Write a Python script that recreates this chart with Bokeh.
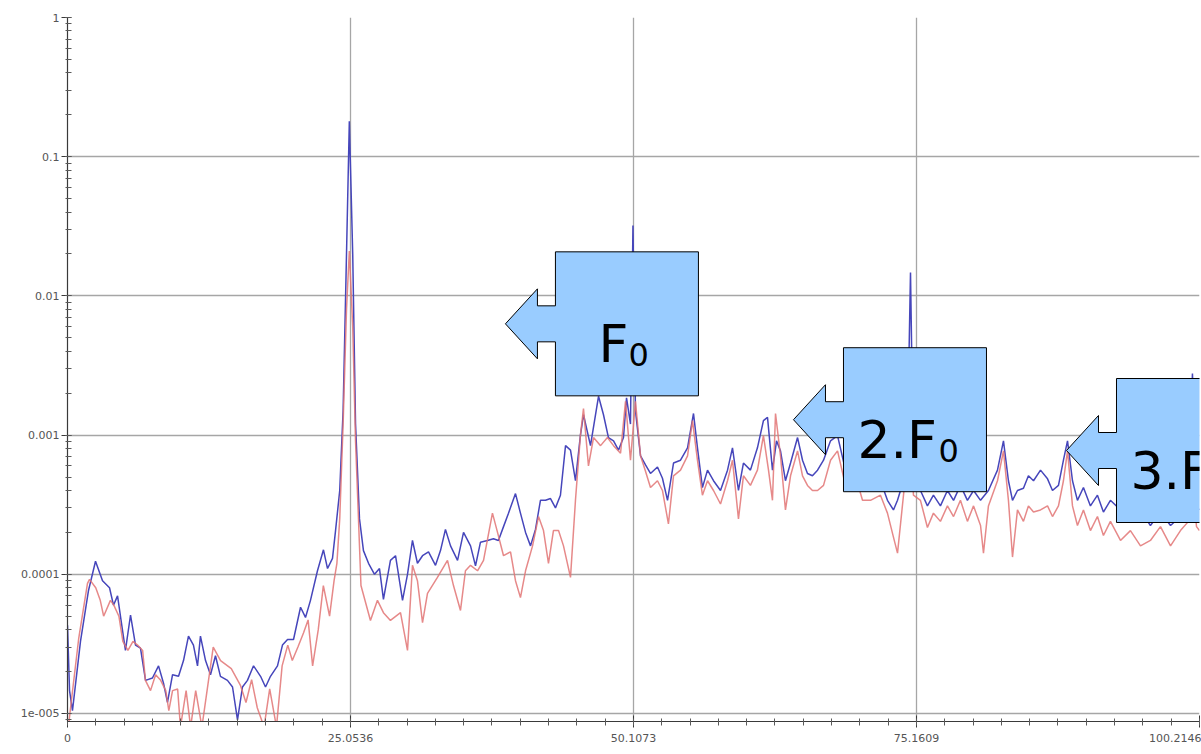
import numpy as np
from bokeh.plotting import figure
from bokeh.models import Range1d, FixedTicker, LogTicker, CustomJSTickFormatter
from bokeh.core.properties import value
from bokeh.embed import file_html
from bokeh.resources import INLINE

# ---- axis ticks -------------------------------------------------------------
x_tick_values = [0.0, 25.0536, 50.1073, 75.1609, 100.2146]
x_tick_labels = ["0", "25.0536", "50.1073", "75.1609", "100.2146"]
# label for 10**(-i)
y_tick_labels = ["1", "0.1", "0.01", "0.001", "0.0001", "1e-005"]

# ---- spectrum, channel A (blue) ---------------------------------------------
blue_freq = [
    0.00, 0.18, 0.44, 1.15, 1.86, 2.48, 3.10, 3.72, 4.07, 4.43, 4.87, 5.13, 5.58,
    6.02, 6.46, 6.91, 7.52, 8.06, 8.50, 8.85, 9.30, 9.83, 10.27, 10.71, 11.15,
    11.51, 11.77, 12.22, 12.66, 13.10, 13.54, 14.16, 14.61, 15.05, 15.49, 15.93,
    16.47, 17.09, 17.53, 17.97, 18.59, 19.03, 19.48, 20.01, 20.63, 21.07, 21.51,
    22.13, 22.66, 23.02, 23.46, 23.73, 24.10, 24.40, 24.70, 24.95, 25.25, 25.50,
    25.85, 26.20, 26.65, 27.18, 27.62, 27.97, 28.59, 29.04, 29.66, 30.10, 30.54,
    30.98, 31.43, 31.96, 32.58, 33.02, 33.46, 33.91, 34.53, 35.06, 35.68, 36.12,
    36.56, 37.18, 37.71, 38.15, 38.60, 39.04, 39.66, 40.10, 40.55, 40.99, 41.43,
    41.87, 42.32, 42.76, 43.20, 43.64, 44.09, 44.53, 44.97, 45.41, 45.68, 46.30,
    47.01, 47.45, 47.89, 48.34, 48.78, 49.22, 49.49, 49.84, 50.06, 50.28, 50.73,
    51.17, 51.61, 52.23, 52.67, 53.12, 53.65, 54.27, 54.89, 55.42, 55.77, 56.21,
    56.66, 57.19, 57.81, 58.43, 58.87, 59.40, 59.84, 60.46, 61.08, 61.61, 61.97,
    62.41, 62.77, 63.12, 63.56, 64.01, 64.63, 65.07, 65.51, 65.95, 66.40, 66.93,
    67.55, 68.17, 68.87, 69.76, 70.38, 71.09, 71.97, 72.59, 73.12, 73.48, 74.01,
    74.36, 74.63, 74.89, 75.51, 76.13, 76.66, 77.28, 77.90, 78.44, 79.05, 79.67,
    80.21, 80.83, 81.53, 82.33, 82.86, 83.30, 83.66, 84.10, 84.63, 85.07, 85.52,
    86.14, 86.76, 87.20, 87.73, 88.17, 88.53, 88.97, 89.41, 89.94, 90.56, 91.18,
    91.71, 92.33, 93.22, 94.10, 94.99, 95.87, 96.76, 97.65, 98.53, 99.24, 99.59,
    99.95, 100.21,
]
blue_amp = [
    4.3e-5, 1.46e-5, 1.05e-5, 3.3e-5, 7.65e-5, 1.24e-4, 9.0e-5, 8.0e-5, 6.0e-5,
    7.0e-5, 3.95e-5, 2.84e-5, 5.1e-5, 3.1e-5, 2.95e-5, 1.73e-5, 1.8e-5, 2.2e-5,
    1.65e-5, 1.2e-5, 1.9e-5, 1.85e-5, 2.4e-5, 3.6e-5, 3.1e-5, 2.2e-5, 3.6e-5,
    2.4e-5, 1.9e-5, 2.6e-5, 1.85e-5, 1.73e-5, 1.55e-5, 9.0e-6, 1.55e-5, 1.73e-5,
    2.2e-5, 1.85e-5, 1.55e-5, 1.85e-5, 2.2e-5, 3.1e-5, 3.4e-5, 3.4e-5, 5.8e-5,
    4.9e-5, 6.5e-5, 1.06e-4, 1.5e-4, 1.1e-4, 1.3e-4, 2.06e-4, 4.0e-4, 1.5e-3,
    2.0e-2, 0.18, 2.0e-2, 1.2e-3, 2.5e-4, 1.48e-4, 1.2e-4, 1.0e-4, 1.1e-4, 6.6e-5,
    1.26e-4, 1.36e-4, 6.5e-5, 1.0e-4, 1.75e-4, 1.2e-4, 1.36e-4, 1.45e-4, 1.16e-4,
    1.48e-4, 2.1e-4, 1.6e-4, 1.26e-4, 2.0e-4, 1.6e-4, 1.15e-4, 1.7e-4, 1.75e-4,
    1.8e-4, 1.75e-4, 2.2e-4, 2.75e-4, 3.8e-4, 2.75e-4, 2.0e-4, 1.6e-4, 2.1e-4,
    3.4e-4, 3.4e-4, 3.5e-4, 3.0e-4, 3.7e-4, 8.4e-4, 7.8e-4, 4.7e-4, 1.0e-3,
    1.4e-3, 8.4e-4, 1.9e-3, 1.4e-3, 9.6e-4, 9.1e-4, 7.8e-4, 9.6e-4, 1.85e-3,
    1.2e-3, 3.2e-2, 1.5e-3, 7.1e-4, 6.1e-4, 5.3e-4, 5.9e-4, 4.9e-4, 3.4e-4,
    6.3e-4, 6.6e-4, 8.1e-4, 1.43e-3, 8.1e-4, 4.2e-4, 5.6e-4, 4.7e-4, 4.0e-4,
    5.6e-4, 8.1e-4, 4.0e-4, 6.3e-4, 5.6e-4, 8.1e-4, 1.27e-3, 1.34e-3, 5.6e-4,
    9.1e-4, 7.7e-4, 4.7e-4, 6.3e-4, 9.6e-4, 6.6e-4, 5.3e-4, 5.1e-4, 5.6e-4,
    6.6e-4, 9.1e-4, 9.9e-4, 5.6e-4, 6.6e-4, 4.0e-4, 4.35e-4, 4.7e-4, 3.4e-4,
    2.9e-4, 3.4e-4, 4.7e-4, 9.1e-4, 1.47e-2, 5.6e-4, 4.0e-4, 3.1e-4, 3.7e-4,
    3.1e-4, 4.0e-4, 3.4e-4, 4.35e-4, 3.4e-4, 4.0e-4, 3.4e-4, 4.0e-4, 5.6e-4,
    9.1e-4, 4.7e-4, 3.4e-4, 4.0e-4, 4.15e-4, 5.1e-4, 4.7e-4, 5.6e-4, 4.85e-4,
    4.0e-4, 4.35e-4, 6.6e-4, 9.1e-4, 4.7e-4, 3.4e-4, 4.2e-4, 3.1e-4, 3.7e-4,
    2.8e-4, 3.4e-4, 2.9e-4, 2.4e-4, 2.9e-4, 2.24e-4, 2.8e-4, 2.24e-4, 2.6e-4,
    3.4e-4, 2.77e-3, 3.1e-4, 2.9e-4,
]

# ---- spectrum, channel B (red) ----------------------------------------------
red_freq = [
    0.00, 0.27, 1.00, 1.77, 1.95, 2.50, 2.90, 3.20, 3.80, 4.10, 4.55, 4.90, 5.35,
    5.80, 6.20, 6.65, 6.90, 7.35, 7.80, 8.25, 8.70, 8.97, 9.30, 9.75, 10.00,
    10.50, 10.90, 11.35, 11.90, 12.90, 13.55, 14.50, 15.30, 15.80, 16.30, 16.80,
    17.40, 17.90, 18.50, 19.00, 19.50, 19.90, 20.40, 20.90, 21.30, 21.70, 22.20,
    22.65, 23.20, 23.60, 23.85, 24.10, 24.40, 24.70, 24.95, 25.25, 25.50, 25.85,
    25.98, 26.82, 27.44, 27.97, 28.59, 29.48, 30.10, 30.54, 30.98, 31.43, 31.87,
    32.75, 33.64, 34.17, 34.79, 35.23, 35.68, 36.30, 36.83, 37.62, 38.07, 38.60,
    39.22, 39.66, 40.10, 40.55, 41.17, 41.70, 42.14, 42.58, 43.02, 43.47, 43.91,
    44.53, 44.97, 45.41, 45.68, 46.12, 46.57, 47.19, 47.80, 48.34, 48.96, 49.40,
    49.84, 50.28, 50.73, 51.17, 51.61, 52.23, 52.67, 53.20, 53.65, 54.27, 54.89,
    55.33, 55.77, 56.21, 56.66, 57.19, 57.81, 58.43, 58.87, 59.40, 59.84, 60.46,
    61.08, 61.61, 62.06, 62.41, 62.68, 63.12, 63.56, 64.01, 64.63, 65.07, 65.51,
    65.95, 66.40, 66.93, 67.55, 68.17, 68.87, 69.76, 70.38, 71.09, 71.97, 72.59,
    73.12, 73.48, 74.01, 74.63, 74.89, 75.51, 76.13, 76.66, 77.28, 77.90, 78.44,
    79.05, 79.67, 80.21, 80.83, 81.09, 81.53, 82.33, 82.86, 83.30, 83.66, 84.10,
    84.63, 85.07, 85.52, 86.14, 86.76, 87.20, 87.73, 88.17, 88.53, 88.97, 89.41,
    89.94, 90.56, 91.18, 91.71, 92.33, 93.22, 94.10, 94.99, 95.87, 96.76, 97.65,
    98.53, 99.24, 99.59, 99.95, 100.21,
]
red_amp = [
    7.0e-6, 1.1e-5, 3.5e-5, 8.6e-5, 9.2e-5, 8.0e-5, 6.5e-5, 5.0e-5, 6.5e-5,
    6.0e-5, 5.0e-5, 3.3e-5, 2.84e-5, 3.3e-5, 3.1e-5, 2.84e-5, 1.73e-5, 1.46e-5,
    1.9e-5, 1.73e-5, 1.46e-5, 1.05e-5, 1.46e-5, 1.5e-5, 8.0e-6, 1.46e-5, 8.0e-6,
    1.46e-5, 8.0e-6, 3.0e-5, 2.4e-5, 2.1e-5, 1.6e-5, 1.2e-5, 1.75e-5, 1.1e-5,
    8.0e-6, 1.5e-5, 8.0e-6, 2.2e-5, 3.1e-5, 2.4e-5, 3.0e-5, 3.8e-5, 4.7e-5,
    2.2e-5, 4.0e-5, 8.3e-5, 5.0e-5, 9.0e-5, 1.2e-4, 2.5e-4, 1.2e-3, 8.0e-3,
    2.1e-2, 6.0e-3, 9.0e-4, 1.6e-4, 8.3e-5, 4.66e-5, 6.5e-5, 5.3e-5, 4.66e-5,
    5.3e-5, 2.84e-5, 1.16e-4, 9.0e-5, 4.5e-5, 7.3e-5, 9.5e-5, 1.26e-4, 8.3e-5,
    5.5e-5, 1.06e-4, 1.16e-4, 1.06e-4, 1.26e-4, 2.75e-4, 2.0e-4, 1.36e-4,
    1.45e-4, 9.0e-5, 6.8e-5, 1.06e-4, 1.6e-4, 2.6e-4, 2.06e-4, 1.2e-4, 2.06e-4,
    2.06e-4, 1.6e-4, 9.5e-5, 3.4e-4, 1.0e-3, 1.55e-3, 6.0e-4, 9.6e-4, 8.4e-4,
    9.6e-4, 8.4e-4, 7.4e-4, 1.75e-3, 6.6e-4, 1.75e-3, 7.1e-4, 5.5e-4, 4.2e-4,
    4.7e-4, 4.0e-4, 2.3e-4, 5.1e-4, 5.6e-4, 7.1e-4, 1.27e-3, 6.6e-4, 3.7e-4,
    4.7e-4, 4.0e-4, 3.2e-4, 4.7e-4, 6.6e-4, 2.5e-4, 5.1e-4, 4.35e-4, 5.6e-4,
    9.9e-4, 5.6e-4, 3.4e-4, 1.43e-3, 7.1e-4, 2.9e-4, 5.1e-4, 7.7e-4, 5.1e-4,
    4.35e-4, 4.0e-4, 4.0e-4, 4.35e-4, 6.6e-4, 7.7e-4, 4.35e-4, 5.1e-4, 3.4e-4,
    3.4e-4, 3.7e-4, 2.75e-4, 1.85e-4, 1.42e-4, 3.7e-4, 1.08e-3, 3.7e-4, 3.4e-4,
    2.17e-4, 2.75e-4, 2.4e-4, 3.1e-4, 2.6e-4, 3.4e-4, 2.4e-4, 3.1e-4, 2.24e-4,
    1.42e-4, 3.1e-4, 4.7e-4, 7.7e-4, 3.4e-4, 1.33e-4, 2.9e-4, 2.4e-4, 3.1e-4,
    2.8e-4, 2.9e-4, 3.1e-4, 2.6e-4, 3.1e-4, 4.7e-4, 7.7e-4, 3.1e-4, 2.24e-4,
    2.9e-4, 2.06e-4, 2.6e-4, 1.9e-4, 2.4e-4, 1.75e-4, 2.06e-4, 1.6e-4, 1.75e-4,
    2.2e-4, 1.6e-4, 2.06e-4, 2.4e-4, 4.7e-4, 2.2e-4, 2.06e-4,
]

# ---- harmonic callouts --------------------------------------------------------
callout_main = ["F", "2.F", "3.F"]
callout_sub = ["0", "0", "0"]
callout_freq = [38.77, 64.27, 88.44]      # where each arrow points
callout_amp = [6.3e-3, 1.29e-3, 7.75e-4]

# ---- layout ------------------------------------------------------------------
W, H = 1201, 754
LEFT, RIGHT, TOP, BOTTOM = 67, 2, 17, 33
FW, FH = W - LEFT - RIGHT, H - TOP - BOTTOM
X0, X1 = 0.0, 100.2146
Y0, Y1 = 10 ** -5.0575, 1.0

p = figure(width=W, height=H, y_axis_type="log",
           x_range=Range1d(X0, X1), y_range=Range1d(Y0, Y1),
           output_backend="svg", toolbar_location=None,
           min_border_left=LEFT, min_border_right=RIGHT,
           min_border_top=TOP, min_border_bottom=BOTTOM)
p.outline_line_color = None
p.background_fill_color = "white"
p.border_fill_color = "white"

# x ticks: fixed majors with ten subdivisions
step = x_tick_values[1] - x_tick_values[0]
x_minor = [x_tick_values[0] + step * k / 10.0 for k in range(0, 41)]
p.xaxis.ticker = FixedTicker(ticks=x_tick_values, minor_ticks=x_minor)
p.xaxis.formatter = CustomJSTickFormatter(
    args=dict(vals=x_tick_values, labels=x_tick_labels),
    code="""
    for (let i = 0; i < vals.length; i++) {
        if (Math.abs(vals[i] - tick) < 1e-6) { return labels[i]; }
    }
    return "";
    """)
p.yaxis.ticker = LogTicker(num_minor_ticks=10)
p.yaxis.formatter = CustomJSTickFormatter(
    args=dict(labels=y_tick_labels),
    code="""
    const i = -Math.round(Math.log10(tick));
    return (i >= 0 && i < labels.length) ? labels[i] : "";
    """)

for ax in (p.xaxis[0], p.yaxis[0]):
    ax.axis_line_color = "#3a3a3a"
    ax.axis_line_width = 1.2
    ax.major_tick_line_color = "#3a3a3a"
    ax.minor_tick_line_color = "#5a5a5a"
    ax.major_label_text_font = "DejaVu Sans"
    ax.major_label_text_font_size = "11px"
    ax.major_label_text_color = "#555555"

p.xaxis.major_tick_out = 6
p.xaxis.major_tick_in = 6
p.xaxis.minor_tick_out = 4
p.xaxis.minor_tick_in = 3
p.xaxis.major_label_standoff = 6
p.yaxis.major_tick_out = 6
p.yaxis.major_tick_in = 3
p.yaxis.minor_tick_out = 2
p.yaxis.minor_tick_in = 4
p.yaxis.major_label_standoff = 2

p.xgrid.grid_line_color = "#a6a6a6"
p.xgrid.grid_line_width = 1.3
p.ygrid.grid_line_color = "#a6a6a6"
p.ygrid.grid_line_width = 1.3
p.ygrid.minor_grid_line_color = None

# ---- spectra -----------------------------------------------------------------
p.line(blue_freq, blue_amp, line_color="#4646bb", line_width=1.5)
p.line(red_freq, red_amp, line_color="#e27474", line_width=1.5, line_alpha=0.85)

# ---- callout arrows ----------------------------------------------------------
DX = (X1 - X0) / FW
DLOG = (np.log10(Y1) - np.log10(Y0)) / FH

def shift(xd, yd, dx, dy):
    """Move a data point by (dx, dy) screen pixels, dy measured downward."""
    return xd + dx * DX, 10 ** (np.log10(yd) - dy * DLOG)

shape = [(0, 0), (32, -35), (32, -18), (50, -18), (50, -72), (193, -72),
         (193, 72), (50, 72), (50, 18), (32, 18), (32, 35)]
text_dx = [93, 64, 64]
sub_dx = [123, 145, 145]

for i in range(len(callout_main)):
    fx, fy = callout_freq[i], callout_amp[i]
    pts = [shift(fx, fy, a, b) for a, b in shape]
    p.patch([q[0] for q in pts], [q[1] for q in pts],
            fill_color="#99ccff", line_color="black", line_width=1)
    tx, ty = shift(fx, fy, text_dx[i], 20)
    p.text(x=[tx], y=[ty], text=[callout_main[i]],
           text_font=value("DejaVu Sans"), text_font_size="52px",
           text_align="left", text_baseline="alphabetic", text_color="black")
    sx, sy = shift(fx, fy, sub_dx[i], 31)
    p.text(x=[sx], y=[sy], text=[callout_sub[i]],
           text_font=value("DejaVu Sans"), text_font_size="32px",
           text_align="left", text_baseline="alphabetic", text_color="black")

open("out.html", "w").write(file_html(p, INLINE))
